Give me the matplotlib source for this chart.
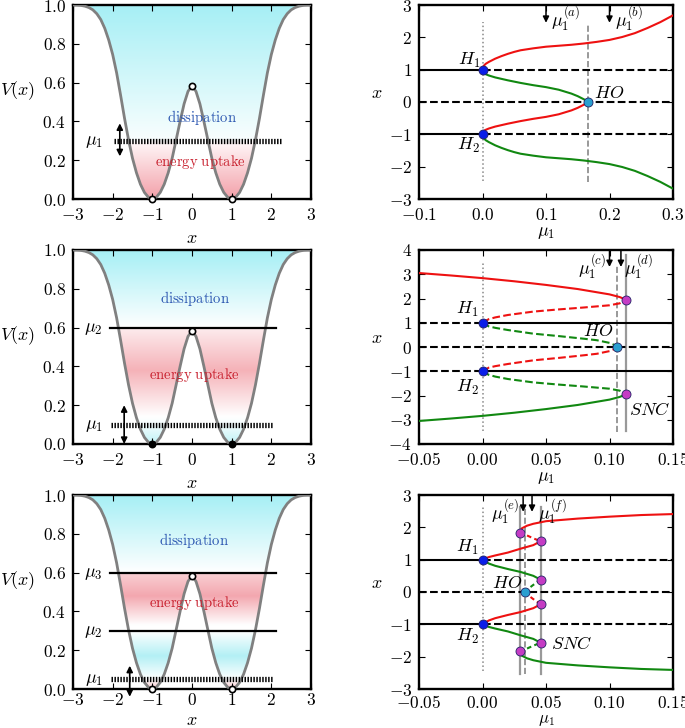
import numpy as np
import matplotlib
matplotlib.use('Agg')
import matplotlib.pyplot as plt
from matplotlib.patches import Polygon
from matplotlib.colors import to_rgb

plt.rcParams['mathtext.fontset'] = 'cm'
plt.rcParams['font.family'] = 'serif'
plt.rcParams['font.serif'] = ['DejaVu Serif']
plt.rcParams['font.size'] = 12.5
plt.rcParams['xtick.direction'] = 'in'
plt.rcParams['ytick.direction'] = 'in'
plt.rcParams['xtick.top'] = True
plt.rcParams['ytick.right'] = True
plt.rcParams['xtick.major.size'] = 4.5
plt.rcParams['ytick.major.size'] = 4.5
plt.rcParams['xtick.major.pad'] = 6
plt.rcParams['ytick.major.pad'] = 5
plt.rcParams['axes.linewidth'] = 1.7

### potential V(x)
x_pot = [-3.0, -2.9, -2.8, -2.7, -2.6, -2.5, -2.4, -2.3, -2.2, -2.1, -2.0,
         -1.9, -1.8, -1.7, -1.6, -1.5, -1.4, -1.3, -1.2, -1.1, -1.0,
         -0.9, -0.8, -0.7, -0.6, -0.5, -0.4, -0.3, -0.2, -0.1, 0.0,
         0.1, 0.2, 0.3, 0.4, 0.5, 0.6, 0.7, 0.8, 0.9, 1.0,
         1.1, 1.2, 1.3, 1.4, 1.5, 1.6, 1.7, 1.8, 1.9, 2.0,
         2.1, 2.2, 2.3, 2.4, 2.5, 2.6, 2.7, 2.8, 2.9, 3.0]
V_pot = [1.000, 1.000, 0.998, 0.994, 0.987, 0.975, 0.955, 0.925, 0.880, 0.820, 0.745,
         0.650, 0.535, 0.415, 0.305, 0.210, 0.135, 0.076, 0.034, 0.009, 0.000,
         0.009, 0.034, 0.076, 0.135, 0.210, 0.305, 0.400, 0.490, 0.555, 0.583,
         0.555, 0.490, 0.400, 0.305, 0.210, 0.135, 0.076, 0.034, 0.009, 0.000,
         0.009, 0.034, 0.076, 0.135, 0.210, 0.305, 0.415, 0.535, 0.650, 0.745,
         0.820, 0.880, 0.925, 0.955, 0.975, 0.987, 0.994, 0.998, 1.000, 1.000]
x_wells = [-1.0, 1.0]
V_wells = [0.0, 0.0]
x_barrier = [0.0]
V_barrier = [0.583]

# energy levels per left panel
mu1_levels = [0.3, 0.1, 0.05]
upper_levels = [[], [0.6], [0.3, 0.6]]
upper_names = [[], [r'$\mu_2$'], [r'$\mu_2$', r'$\mu_3$']]

### bifurcation diagram (a)/(b): mu1 in [-0.1, 0.3]
mu_ab_out = [0.0, 0.002, 0.005, 0.01, 0.02, 0.03, 0.04, 0.05, 0.06, 0.08, 0.10,
             0.12, 0.14, 0.16, 0.18, 0.20, 0.22, 0.24, 0.26, 0.28, 0.30]
x_ab_red_out = [1.0, 1.12, 1.18, 1.24, 1.34, 1.42, 1.49, 1.55, 1.60, 1.66, 1.71,
                1.74, 1.77, 1.81, 1.86, 1.92, 2.01, 2.13, 2.29, 2.47, 2.68]
x_ab_green_out = [-1.0, -1.12, -1.18, -1.24, -1.34, -1.42, -1.49, -1.55, -1.60, -1.66, -1.71,
                  -1.74, -1.77, -1.81, -1.86, -1.92, -2.01, -2.13, -2.29, -2.47, -2.68]
mu_ab_in = [0.0, 0.002, 0.005, 0.01, 0.02, 0.04, 0.06, 0.08, 0.10, 0.12, 0.14, 0.15, 0.16, 0.166]
x_ab_green_in = [1.0, 0.90, 0.86, 0.82, 0.76, 0.67, 0.59, 0.52, 0.46, 0.38, 0.26, 0.18, 0.08, 0.0]
x_ab_red_in = [-1.0, -0.90, -0.86, -0.82, -0.76, -0.67, -0.59, -0.52, -0.46, -0.38, -0.26, -0.18, -0.08, 0.0]
mu_ab_HO = 0.166

### bifurcation diagram (c)/(d): mu1 in [-0.05, 0.15]
mu_cd_out = [-0.05, -0.025, 0.0, 0.025, 0.05, 0.075, 0.10, 0.108, 0.113]
x_cd_red_out = [3.05, 2.95, 2.84, 2.71, 2.56, 2.39, 2.17, 2.06, 1.95]
x_cd_green_out = [-3.05, -2.95, -2.84, -2.71, -2.56, -2.39, -2.17, -2.06, -1.95]
mu_cd_mid = [0.0, 0.005, 0.01, 0.02, 0.04, 0.06, 0.08, 0.10, 0.108, 0.113]
x_cd_red_mid = [1.0, 1.15, 1.22, 1.32, 1.46, 1.55, 1.63, 1.72, 1.80, 1.95]
x_cd_green_mid = [-1.0, -1.15, -1.22, -1.32, -1.46, -1.55, -1.63, -1.72, -1.80, -1.95]
mu_cd_in = [0.0, 0.005, 0.01, 0.02, 0.04, 0.06, 0.08, 0.09, 0.10, 0.104, 0.106]
x_cd_green_in = [1.0, 0.85, 0.79, 0.70, 0.55, 0.45, 0.34, 0.28, 0.17, 0.08, 0.0]
x_cd_red_in = [-1.0, -0.85, -0.79, -0.70, -0.55, -0.45, -0.34, -0.28, -0.17, -0.08, 0.0]
mu_cd_HO = 0.106
mu_cd_SNC = 0.113
x_cd_SNC = [1.95, -1.95]

### bifurcation diagram (e)/(f): mu1 in [-0.05, 0.15]
mu_ef_top = [0.0293, 0.031, 0.035, 0.04, 0.05, 0.075, 0.10, 0.125, 0.15]
x_ef_red_top = [1.84, 1.97, 2.05, 2.11, 2.19, 2.27, 2.33, 2.38, 2.41]
x_ef_green_bot = [-1.84, -1.97, -2.05, -2.11, -2.19, -2.27, -2.33, -2.38, -2.41]
mu_ef_uns = [0.0293, 0.035, 0.04, 0.0458]
x_ef_red_uns = [1.84, 1.75, 1.66, 1.57]
x_ef_green_uns = [-1.84, -1.75, -1.66, -1.57]
mu_ef_low = [0.0, 0.005, 0.01, 0.02, 0.03, 0.04, 0.0458]
x_ef_red_low = [1.0, 1.08, 1.13, 1.22, 1.34, 1.45, 1.57]
x_ef_green_low = [-1.0, -1.08, -1.13, -1.22, -1.34, -1.45, -1.57]
x_ef_green_hi = [1.0, 0.88, 0.81, 0.71, 0.62, 0.50, 0.38]
x_ef_red_hi = [-1.0, -0.88, -0.81, -0.71, -0.62, -0.50, -0.38]
mu_ef_inn = [0.0458, 0.04, 0.036, 0.0332]
x_ef_green_inn = [0.38, 0.22, 0.10, 0.0]
x_ef_red_inn = [-0.38, -0.22, -0.10, 0.0]
mu_ef_HO = 0.0332
mu_ef_SNC = [0.0293, 0.0293, 0.0458, 0.0458, 0.0458, 0.0458]
x_ef_SNC = [1.84, -1.84, 1.57, -1.57, 0.38, -0.38]

RED = '#ee1111'
GREEN = '#118811'
BLUE_H = '#0a1ee8'
BLUE_HO = '#2a9fd0'
MAGENTA = '#c43cc4'
CYAN = '#a6eff5'
PINK = '#f3a0a9'
WHITE = '#ffffff'

# colour ramps (height, colour) for the fill inside the well
grad_stops = [
    [(0.0, PINK), (0.29, '#fff6f7'), (0.31, '#f8fefe'), (1.0, CYAN)],
    [(0.0, '#bff2f6'), (0.1, '#f4fdfe'), (0.14, WHITE), (0.38, '#f5b2b8'),
     (0.6, '#fdecee'), (0.6, WHITE), (1.0, CYAN)],
    [(0.0, '#f6c4c9'), (0.05, WHITE), (0.17, '#b3f0f5'), (0.3, WHITE),
     (0.33, WHITE), (0.48, '#f3a7af'), (0.6, '#f9d0d4'), (0.6, WHITE), (1.0, CYAN)],
]
FS = 13


def math_ticks(ax, xt, yt, xfmt, yfmt):
    ax.set_xticks(xt)
    ax.set_yticks(yt)
    ax.set_xticklabels([('$' + xfmt + '$') % v for v in xt])
    ax.set_yticklabels([('$' + yfmt + '$') % v for v in yt])


def potential_panel(ax, i):
    stops = grad_stops[i]
    hs = np.linspace(0, 1, 400)
    ys = [s[0] for s in stops]
    cols = np.array([to_rgb(s[1]) for s in stops])
    img = np.stack([np.interp(hs, ys, cols[:, k]) for k in range(3)], axis=-1)[:, None, :]
    im = ax.imshow(img, extent=[-3, 3, 0, 1], origin='lower', aspect='auto',
                   interpolation='bilinear', zorder=0)
    well = Polygon(np.column_stack([x_pot, V_pot]), closed=True,
                   facecolor='none', edgecolor='none')
    ax.add_patch(well)
    im.set_clip_path(well)
    ax.plot(x_pot, V_pot, color='#808080', lw=2, zorder=3)

    mu1 = mu1_levels[i]
    xr = [(-1.96, 2.27), (-2.05, 2.05), (-2.05, 2.05)][i]
    ax.plot(xr, [mu1, mu1], color='k', lw=3.8, dashes=(0.28, 0.28), zorder=4)
    ax.text(-2.48, mu1, r'$\mu_1$', ha='center', va='center', fontsize=FS)
    for lev, name in zip(upper_levels[i], upper_names[i]):
        ax.plot([-2.07, 2.12], [lev, lev], color='k', lw=1.6, zorder=4)
        ax.text(-2.48, lev, name, ha='center', va='center', fontsize=FS)
    ax_x, a0, a1 = [(-1.82, 0.22, 0.39), (-1.71, 0.2, 0.0), (-1.57, 0.12, -0.04)][i]
    ax.annotate('', xy=(ax_x, a0), xytext=(ax_x, a1), annotation_clip=False,
                arrowprops=dict(arrowstyle='<|-|>', color='k', lw=1.2,
                                mutation_scale=9, shrinkA=0, shrinkB=0), zorder=5)

    wfc = 'k' if i == 1 else 'w'
    ax.plot(x_wells, V_wells, 'o', ms=4.5, mfc=wfc, mec='k', mew=1.2, zorder=6, clip_on=False)
    ax.plot(x_barrier, V_barrier, 'o', ms=4.5, mfc='w', mec='k', mew=1.2, zorder=6)

    dpos = [(0.25, 0.42), (0.07, 0.75), (0.05, 0.765)][i]
    epos = [(0.22, 0.19), (0.07, 0.355), (0.07, 0.445)][i]
    ax.text(dpos[0], dpos[1], r'$\mathrm{dissipation}$', color='#2a55b0',
            ha='center', va='center', fontsize=10.5, zorder=5)
    ax.text(epos[0], epos[1], r'$\mathrm{energy\ uptake}$', color='#c8202e',
            ha='center', va='center', fontsize=10.5, zorder=5)

    ax.set_xlim(-3, 3)
    ax.set_ylim(0, 1)
    math_ticks(ax, [-3, -2, -1, 0, 1, 2, 3], [0, 0.2, 0.4, 0.6, 0.8, 1.0], '%d', '%.1f')
    ax.set_xlabel(r'$x$', fontsize=FS)
    ax.set_ylabel(r'$V(x)$', fontsize=FS, rotation=0)
    ax.yaxis.set_label_coords(-0.235, 0.5)
    if i < 2:
        ax.xaxis.set_label_coords(0.5, -0.155)
    else:
        ax.tick_params(axis='x', pad=2.5)
        ax.xaxis.set_label_coords(0.5, -0.115)


def hline(ax, a, b, y, ls):
    ax.plot([a, b], [y, y], color='k', ls=ls, lw=1.5, zorder=2)


def marker(ax, mu, x, c):
    ax.plot(mu, x, 'o', ms=6.5, mfc=c, mec='#222266', mew=0.6, zorder=7)


def down_arrow(ax, mu, top, tip):
    ax.annotate('', xy=(mu, tip), xytext=(mu, top), annotation_clip=False,
                arrowprops=dict(arrowstyle='-|>', color='k', lw=1.1,
                                mutation_scale=9, shrinkA=0, shrinkB=0), zorder=8)


W, H = 685, 728
fig = plt.figure(figsize=(W / 100, H / 100), dpi=100)
rows = [(5, 199), (250, 444), (495, 689)]
left_axes = [fig.add_axes([73 / W, (H - b) / H, 238 / W, (b - t) / H]) for t, b in rows]
right_axes = [fig.add_axes([419 / W, (H - b) / H, 254 / W, (b - t) / H]) for t, b in rows]

for i, ax in enumerate(left_axes):
    potential_panel(ax, i)

### (a)/(b)
ax = right_axes[0]
hline(ax, -0.1, 0.0, 1, '-')
hline(ax, -0.1, 0.0, -1, '-')
hline(ax, 0.0, 0.3, 1, '--')
hline(ax, 0.0, 0.3, -1, '--')
hline(ax, -0.1, 0.3, 0, '--')
ax.plot([0, 0], [-2.45, 2.48], color='#888888', ls=':', lw=1.1, zorder=1)
ax.plot([mu_ab_HO, mu_ab_HO], [-2.48, 2.43], color='#888888', ls='--', lw=1.2, zorder=1)
ax.plot(mu_ab_out, x_ab_red_out, color=RED, lw=1.5, zorder=3)
ax.plot(mu_ab_out, x_ab_green_out, color=GREEN, lw=1.5, zorder=3)
ax.plot(mu_ab_in, x_ab_green_in, color=GREEN, lw=1.5, zorder=3)
ax.plot(mu_ab_in, x_ab_red_in, color=RED, lw=1.5, zorder=3)
marker(ax, [0, 0], [1, -1], BLUE_H)
marker(ax, [mu_ab_HO], [0], BLUE_HO)
ax.text(-0.004, 1.28, r'$H_1$', ha='right', va='center', fontsize=FS)
ax.text(-0.004, -1.33, r'$H_2$', ha='right', va='center', fontsize=FS)
ax.text(0.176, 0.27, r'$HO$', ha='left', va='center', fontsize=FS)
down_arrow(ax, 0.1, 3.0, 2.45)
down_arrow(ax, 0.2, 3.0, 2.45)
ax.text(0.108, 2.55, r'$\mu_1^{(a)}$', ha='left', va='center', fontsize=FS)
ax.text(0.208, 2.55, r'$\mu_1^{(b)}$', ha='left', va='center', fontsize=FS)
ax.set_xlim(-0.1, 0.3)
ax.set_ylim(-3, 3)
math_ticks(ax, [-0.1, 0.0, 0.1, 0.2, 0.3], [-3, -2, -1, 0, 1, 2, 3], '%.1f', '%d')

### (c)/(d)
ax = right_axes[1]
hline(ax, -0.05, 0.0, 1, '--')
hline(ax, -0.05, 0.0, -1, '--')
hline(ax, 0.0, 0.15, 1, '-')
hline(ax, 0.0, 0.15, -1, '-')
hline(ax, -0.05, 0.15, 0, '--')
ax.plot([0, 0], [-3.45, 3.48], color='#888888', ls=':', lw=1.1, zorder=1)
ax.plot([mu_cd_HO, mu_cd_HO], [-3.5, 3.38], color='#888888', ls='--', lw=1.2, zorder=1)
ax.plot([mu_cd_SNC, mu_cd_SNC], [-3.48, 3.8], color='#999999', ls='-', lw=1.6, zorder=1)
ax.plot(mu_cd_out, x_cd_red_out, color=RED, lw=1.5, zorder=3)
ax.plot(mu_cd_out, x_cd_green_out, color=GREEN, lw=1.5, zorder=3)
ax.plot(mu_cd_mid, x_cd_red_mid, color=RED, lw=1.5, ls='--', zorder=3)
ax.plot(mu_cd_mid, x_cd_green_mid, color=GREEN, lw=1.5, ls='--', zorder=3)
ax.plot(mu_cd_in, x_cd_green_in, color=GREEN, lw=1.5, ls='--', zorder=3)
ax.plot(mu_cd_in, x_cd_red_in, color=RED, lw=1.5, ls='--', zorder=3)
marker(ax, [0, 0], [1, -1], BLUE_H)
marker(ax, [mu_cd_HO], [0], BLUE_HO)
marker(ax, [mu_cd_SNC, mu_cd_SNC], x_cd_SNC, MAGENTA)
ax.text(-0.003, 1.55, r'$H_1$', ha='right', va='center', fontsize=FS)
ax.text(-0.003, -1.68, r'$H_2$', ha='right', va='center', fontsize=FS)
ax.text(0.103, 0.66, r'$HO$', ha='right', va='center', fontsize=FS)
ax.text(0.115, -2.6, r'$SNC$', ha='left', va='center', fontsize=FS)
down_arrow(ax, 0.1, 4.0, 3.3)
down_arrow(ax, 0.109, 4.0, 3.3)
ax.text(0.097, 3.3, r'$\mu_1^{(c)}$', ha='right', va='center', fontsize=FS)
ax.text(0.1115, 3.3, r'$\mu_1^{(d)}$', ha='left', va='center', fontsize=FS)
ax.set_xlim(-0.05, 0.15)
ax.set_ylim(-4, 4)
math_ticks(ax, [-0.05, 0.0, 0.05, 0.10, 0.15], [-4, -3, -2, -1, 0, 1, 2, 3, 4], '%.2f', '%d')

### (e)/(f)
ax = right_axes[2]
hline(ax, -0.05, 0.0, 1, '-')
hline(ax, -0.05, 0.0, -1, '-')
hline(ax, 0.0, 0.15, 1, '--')
hline(ax, 0.0, 0.15, -1, '--')
hline(ax, -0.05, 0.15, 0, '--')
ax.plot([0, 0], [-2.45, 2.64], color='#888888', ls=':', lw=1.1, zorder=1)
for m in [0.0293, 0.0458]:
    ax.plot([m, m], [-2.55, 2.63], color='#999999', ls='-', lw=1.6, zorder=1)
ax.plot([mu_ef_HO, mu_ef_HO], [-2.55, 2.63], color='#888888', ls='--', lw=1.2, zorder=1)
ax.plot(mu_ef_top, x_ef_red_top, color=RED, lw=1.5, zorder=3)
ax.plot(mu_ef_top, x_ef_green_bot, color=GREEN, lw=1.5, zorder=3)
ax.plot(mu_ef_uns, x_ef_red_uns, color=RED, lw=1.5, ls='--', dashes=(2.2, 1.6), zorder=3)
ax.plot(mu_ef_uns, x_ef_green_uns, color=GREEN, lw=1.5, ls='--', dashes=(2.2, 1.6), zorder=3)
ax.plot(mu_ef_low, x_ef_red_low, color=RED, lw=1.5, zorder=3)
ax.plot(mu_ef_low, x_ef_green_low, color=GREEN, lw=1.5, zorder=3)
ax.plot(mu_ef_low, x_ef_green_hi, color=GREEN, lw=1.5, zorder=3)
ax.plot(mu_ef_low, x_ef_red_hi, color=RED, lw=1.5, zorder=3)
ax.plot(mu_ef_inn, x_ef_green_inn, color=GREEN, lw=1.5, ls='--', dashes=(2.2, 1.6), zorder=3)
ax.plot(mu_ef_inn, x_ef_red_inn, color=RED, lw=1.5, ls='--', dashes=(2.2, 1.6), zorder=3)
marker(ax, [0, 0], [1, -1], BLUE_H)
marker(ax, [mu_ef_HO], [0], BLUE_HO)
marker(ax, mu_ef_SNC, x_ef_SNC, MAGENTA)
ax.text(-0.003, 1.38, r'$H_1$', ha='right', va='center', fontsize=FS)
ax.text(-0.003, -1.38, r'$H_2$', ha='right', va='center', fontsize=FS)
ax.text(0.031, 0.27, r'$HO$', ha='right', va='center', fontsize=FS)
ax.text(0.054, -1.6, r'$SNC$', ha='left', va='center', fontsize=FS)
down_arrow(ax, 0.032, 3.0, 2.48)
down_arrow(ax, 0.039, 3.0, 2.48)
ax.text(0.0288, 2.45, r'$\mu_1^{(e)}$', ha='right', va='center', fontsize=FS)
ax.text(0.0435, 2.45, r'$\mu_1^{(f)}$', ha='left', va='center', fontsize=FS)
ax.set_xlim(-0.05, 0.15)
ax.set_ylim(-3, 3)
math_ticks(ax, [-0.05, 0.0, 0.05, 0.10, 0.15], [-3, -2, -1, 0, 1, 2, 3], '%.2f', '%d')
ax.tick_params(axis='x', pad=4.5)

for i, ax in enumerate(right_axes):
    ax.set_xlabel(r'$\mu_1$', fontsize=FS if i < 2 else 12)
    ax.set_ylabel(r'$x$', fontsize=FS, rotation=0)
    ax.yaxis.set_label_coords(-0.165, 0.5)
    ax.xaxis.set_label_coords(0.5, -0.125 if i < 2 else -0.112)

fig.savefig('out.png', dpi=100)
